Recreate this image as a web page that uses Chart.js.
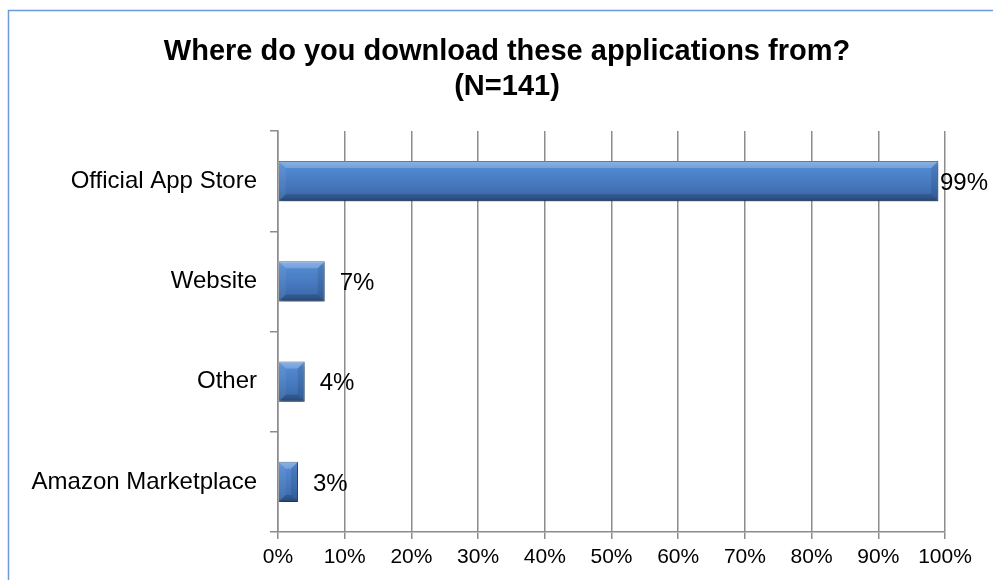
<!DOCTYPE html>
<html>
<head>
<meta charset="utf-8">
<title>Download sources</title>
<script src="https://cdn.jsdelivr.net/npm/chart.js@4/dist/chart.umd.min.js"></script>
<style>
  html, body { margin: 0; padding: 0; background: #fff; overflow: hidden; }
  #wrap { position: relative; width: 993px; height: 580px; }
</style>
</head>
<body>
<div id="wrap"><canvas id="chart" width="993" height="580"></canvas></div>
<script>
// survey answers, percent of respondents
const sources = ['Official App Store', 'Website', 'Other', 'Amazon Marketplace'];
const shares = [99, 7, 4, 3];
const titleLines = ['Where do you download these applications from?', '(N=141)'];

const FONT = "'Liberation Sans', Arial, sans-serif";
const GRID = '#8c8c8c';

// vertical gradient per bar so each one gets the glossy look
function barFill(context) {
  const chart = context.chart;
  const yScale = chart.scales.y;
  if (!chart.chartArea || !yScale || context.dataIndex === undefined) return '#4a7fc1';
  const band = yScale.getPixelForValue(1) - yScale.getPixelForValue(0);
  const mid = yScale.getPixelForValue(context.dataIndex);
  const half = band * 0.4 / 2;
  if (!Number.isFinite(mid) || !Number.isFinite(half) || half === 0) return '#4a7fc1';
  const g = chart.ctx.createLinearGradient(0, mid - half, 0, mid + half);
  g.addColorStop(0, '#6a9ee0');
  g.addColorStop(0.15, '#5289d0');
  g.addColorStop(0.6, '#4577bd');
  g.addColorStop(0.9, '#3a69a8');
  g.addColorStop(1, '#2b5289');
  return g;
}

// outer frame + two-line title
const framePlugin = {
  id: 'frame',
  beforeDraw(chart) {
    const ctx = chart.ctx;
    ctx.save();
    ctx.strokeStyle = '#6b9bd8';
    ctx.lineWidth = 1.5;
    ctx.strokeRect(8.5, 10.5, chart.width + 20, chart.height + 20);
    ctx.fillStyle = '#000';
    ctx.font = 'bold 29px ' + FONT;
    ctx.textAlign = 'center';
    ctx.textBaseline = 'middle';
    titleLines.forEach((line, i) => ctx.fillText(line, 507, 52 + i * 35));
    ctx.restore();
  }
};

// soft drop shadow under the bars, then bevel facets on top
const barStyle = {
  id: 'barStyle',
  beforeDatasetsDraw(chart) {
    const ctx = chart.ctx;
    ctx.save();
    ctx.shadowColor = 'rgba(0,0,0,0.35)';
    ctx.shadowBlur = 5;
    ctx.shadowOffsetX = 1;
    ctx.shadowOffsetY = 3;
  },
  afterDatasetsDraw(chart) {
    const ctx = chart.ctx;
    ctx.restore();
    const meta = chart.getDatasetMeta(0);
    ctx.save();
    meta.data.forEach(bar => {
      const x0 = bar.base, x1 = bar.x;
      const y0 = bar.y - bar.height / 2, y1 = bar.y + bar.height / 2;
      const d = Math.min(7, (x1 - x0) / 2, bar.height / 3);
      const face = (pts, fill) => {
        ctx.beginPath();
        ctx.moveTo(pts[0][0], pts[0][1]);
        pts.slice(1).forEach(p => ctx.lineTo(p[0], p[1]));
        ctx.closePath();
        ctx.fillStyle = fill;
        ctx.fill();
      };
      face([[x0, y0], [x1, y0], [x1 - d, y0 + d], [x0 + d, y0 + d]], 'rgba(255,255,255,0.22)');
      face([[x0, y1], [x1, y1], [x1 - d, y1 - d], [x0 + d, y1 - d]], 'rgba(0,0,0,0.18)');
      face([[x1, y0], [x1, y1], [x1 - d, y1 - d], [x1 - d, y0 + d]], 'rgba(0,0,0,0.10)');
      face([[x0, y0], [x0, y1], [x0 + d, y1 - d], [x0 + d, y0 + d]], 'rgba(255,255,255,0.06)');
    });
    ctx.restore();
  }
};

// percentage labels to the right of each bar
const valueLabels = {
  id: 'valueLabels',
  afterDatasetsDraw(chart) {
    const ctx = chart.ctx;
    const meta = chart.getDatasetMeta(0);
    ctx.save();
    ctx.font = '24px ' + FONT;
    ctx.fillStyle = '#000';
    ctx.textBaseline = 'middle';
    meta.data.forEach((bar, i) => {
      const text = shares[i] + '%';
      const w = ctx.measureText(text).width;
      const x = Math.min(bar.x + 15, chart.width - 5 - w);
      ctx.fillText(text, x, bar.y + 2);
    });
    ctx.restore();
  }
};

new Chart(document.getElementById('chart'), {
  type: 'bar',
  data: {
    labels: sources,
    datasets: [{
      data: shares,
      backgroundColor: barFill,
      borderColor: '#2f5a92',
      borderWidth: 1,
      categoryPercentage: 1,
      barPercentage: 0.4
    }]
  },
  options: {
    indexAxis: 'y',
    responsive: false,
    animation: false,
    layout: { padding: { top: 131, right: 48, left: 0, bottom: 0 } },
    plugins: {
      legend: { display: false },
      tooltip: { enabled: false }
    },
    scales: {
      x: {
        min: 0,
        max: 100,
        ticks: {
          stepSize: 10,
          color: '#000',
          padding: 6,
          font: { family: FONT, size: 21 },
          callback: v => v + '%'
        },
        grid: { color: GRID, lineWidth: 1.5, tickLength: 7 },
        border: { color: GRID, width: 1.5 },
        afterFit(scale) { scale.height = 48; }
      },
      y: {
        ticks: {
          color: '#000',
          padding: 13,
          font: { family: FONT, size: 24 }
        },
        grid: {
          offset: true,
          drawOnChartArea: false,
          color: GRID,
          lineWidth: 1.5,
          tickLength: 8
        },
        border: { color: GRID, width: 1.5 },
        afterFit(scale) { scale.width = 278; }
      }
    }
  },
  plugins: [framePlugin, barStyle, valueLabels]
});
</script>
</body>
</html>
